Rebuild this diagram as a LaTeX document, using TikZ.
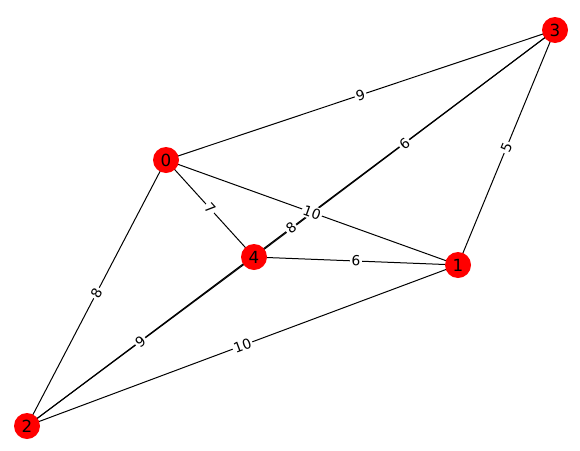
\documentclass[tikz,border=0pt]{standalone}
\usepackage{fontspec}
\setmainfont{DejaVu Sans}
\begin{document}
\begin{tikzpicture}[x=1pt,y=-1pt,
  vtx/.style={circle,fill=red,draw=none,minimum size=26pt,inner sep=0pt,font=\fontsize{16.7}{19}\selectfont},
  edge/.style={draw=black,line width=1pt},
  elab/.style={fill=white,inner sep=1.5pt,sloped,font=\fontsize{13.9}{16}\selectfont}]
\useasboundingbox (0,0) rectangle (580,450);
\coordinate (p0) at (166,160);
\coordinate (p1) at (458,265);
\coordinate (p2) at (27,426);
\coordinate (p3) at (555,30);
\coordinate (p4) at (254,257);
% edges
\draw[edge] (p0) -- (p3);
\draw[edge] (p0) -- (p4);
\draw[edge] (p0) -- (p1);
\draw[edge] (p0) -- (p2);
\draw[edge] (p3) -- (p1);
\draw[edge] (p3) -- (p4);
\draw[edge] (p3) -- (p2);
\draw[edge] (p4) -- (p1);
\draw[edge] (p4) -- (p2);
\draw[edge] (p2) -- (p1);
% labels
\path (p0) -- node[elab] (l03) {9} (p3);
\path (p0) -- node[elab] (l04) {7} (p4);
\path (p0) -- node[elab] (l02) {8} (p2);
\path (p3) -- node[elab] (l31) {5} (p1);
\path (p3) -- node[elab] (l34) {6} (p4);
\path (p3) -- node[elab] (l32) {8} (p2);
\path (p0) -- node[elab] (l01) {10} (p1);
\path (p4) -- node[elab] (l41) {6} (p1);
\path (p4) -- node[elab] (l42) {9} (p2);
\path (p2) -- node[elab] (l21) {10} (p1);
% nodes
\node[vtx] (n0) at (p0) {0};
\node[vtx] (n1) at (p1) {1};
\node[vtx] (n2) at (p2) {2};
\node[vtx] (n3) at (p3) {3};
\node[vtx] (n4) at (p4) {4};
\end{tikzpicture}
\end{document}
